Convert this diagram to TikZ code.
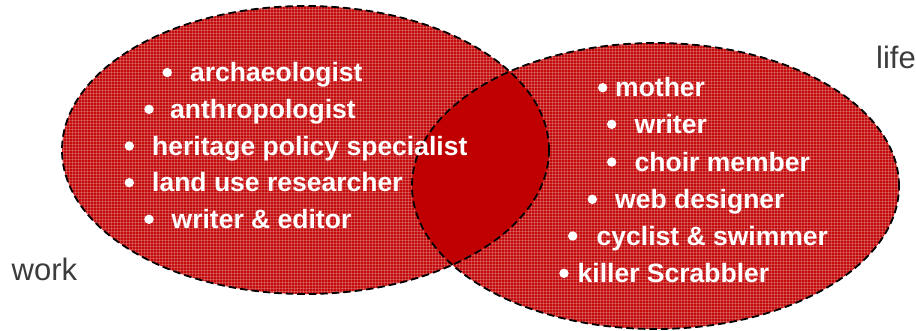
\documentclass[tikz,border=0pt]{standalone}
\usepackage{fontspec}
\setmainfont{Liberation Sans}
\definecolor{vennred}{RGB}{196,10,10}
\definecolor{overlapred}{RGB}{192,0,0}
\definecolor{labelgray}{RGB}{60,60,60}
\tikzset{
  item/.style={text=white, font=\bfseries\fontsize{26.5}{30}\selectfont, inner sep=0pt, anchor=base west},
  bul/.style={fill=white},
  outline/.style={draw=black, line width=1.8pt, dash pattern=on 7.5pt off 4pt},
  texture/.style={draw=white, draw opacity=0.22, line width=1pt},
  side/.style={text=labelgray, font=\fontsize{31}{34}\selectfont, inner sep=0pt, anchor=base west}
}
\newcommand\venitem[5]{%
  \node[item] (#1) at (#2,#3) {#5};
  \fill[bul] ([yshift=9pt]#4,#3) circle (4.7pt);
}
\begin{document}
\begin{tikzpicture}[x=1pt,y=-1pt]
\useasboundingbox (0,0) rectangle (916,330);
\coordinate (cw) at (305.5,150);
\coordinate (cl) at (655.5,186);
% base fills
\fill[vennred] (cw) ellipse [x radius=243.5pt, y radius=144pt];
\fill[vennred] (cl) ellipse [x radius=243.5pt, y radius=143pt];
% texture
\begin{scope}
  \clip (cw) ellipse [x radius=243.5pt, y radius=144pt]
        (cl) ellipse [x radius=243.5pt, y radius=143pt];
  \foreach \gx in {60.5,63.5,...,902} {\draw[texture] (\gx,0) -- (\gx,330);}
  \foreach \gy in {3.5,6.5,...,330} {\draw[texture] (58,\gy) -- (902,\gy);}
\end{scope}
% overlap
\begin{scope}
  \clip (cw) ellipse [x radius=243.5pt, y radius=144pt];
  \fill[overlapred] (cl) ellipse [x radius=243.5pt, y radius=143pt];
\end{scope}
% outlines
\draw[outline] (cw) ellipse [x radius=243.5pt, y radius=144pt];
\draw[outline] (cl) ellipse [x radius=243.5pt, y radius=143pt];
% work list
\venitem{w1}{190}{81.5}{167.3}{archaeologist}
\venitem{w2}{170}{118.3}{149}{anthropologist}
\venitem{w3}{152}{155}{129.3}{heritage policy specialist}
\venitem{w4}{152}{191.7}{129.3}{land use researcher}
\venitem{w5}{171.5}{228.3}{149}{writer \& editor}
% life list
\venitem{l1}{615}{96.7}{602.7}{mother}
\venitem{l2}{634.5}{133.3}{611.7}{writer}
\venitem{l3}{634.5}{171}{611.7}{choir member}
\venitem{l4}{615}{208.3}{592.3}{web designer}
\venitem{l5}{596.5}{245}{572.7}{cyclist \& swimmer}
\venitem{l6}{577.5}{282.3}{564}{killer Scrabbler}
% side labels
\node[side] (work) at (11.5,280) {work};
\node[side] (life) at (876,68) {life};
\end{tikzpicture}
\end{document}
